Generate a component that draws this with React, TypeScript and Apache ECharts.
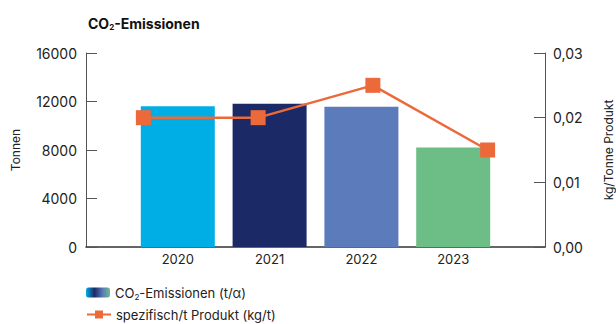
import React, { useEffect, useRef } from "react";
import * as echarts from "echarts";

const barCategories = ["", "2020", "2021", "2022", "2023", ""];
const lineCategories = ["2020", "2021", "2022", "2023"];
const emissions: (number | string)[] = ["-", 11600, 11820, 11560, 8200, "-"];
const barColors = ["#00AEE6", "#00AEE6", "#1B2966", "#5C7BBB", "#6DBD86", "#6DBD86"];
const specific = [0.02, 0.02, 0.025, 0.015];
const leftTicks = [0, 16000, 4000];
const rightTicks = [0, 0.03, 0.01];
const seriesNames = ["CO2-Emissionen (t/a)", "spezifisch/t Produkt (kg/t)"];

const FONT = "Inter, 'Liberation Sans', sans-serif";

export default function App() {
  const ref = useRef<HTMLDivElement>(null);
  useEffect(() => {
    if (!ref.current) return;
    const chart = echarts.init(ref.current, undefined, { renderer: "svg" });
    const gradient = new echarts.graphic.LinearGradient(0, 0, 1, 0, [
      { offset: 0, color: "#00AEE6" },
      { offset: 0.35, color: "#1B2966" },
      { offset: 0.7, color: "#5C7BBB" },
      { offset: 1, color: "#6DBD86" },
    ]);
    const legendText = {
      rich: {
        a: { fontFamily: FONT, fontSize: 13, color: "#222" },
        s: { fontFamily: FONT, fontSize: 8, color: "#222", padding: [8, 0, 0, 0] },
      },
    };
    const legendFormatter = (name: string) =>
      name.startsWith("CO2") ? "{a|CO}{s|2}{a|-Emissionen (t/α)}" : "{a|" + name + "}";
    chart.setOption({
      animation: false,
      textStyle: { fontFamily: FONT },
      title: {
        left: 83,
        top: 10,
        text: "{b|CO}{s|2}{b|-Emissionen}",
        textStyle: {
          rich: {
            b: { fontFamily: FONT, fontWeight: "bold", fontSize: 14, color: "#111" },
            s: { fontFamily: FONT, fontWeight: "bold", fontSize: 8, color: "#111", verticalAlign: "bottom", padding: [8, 0, 0, 0] },
          },
        },
      },
      legend: [
        {
          left: 86,
          top: 286,
          padding: 0,
          itemWidth: 24,
          itemHeight: 10,
          data: [seriesNames[0]],
          formatter: legendFormatter,
          textStyle: legendText,
        },
        {
          left: 86,
          top: 308,
          padding: 0,
          itemWidth: 24,
          itemHeight: 10,
          data: [seriesNames[1]],
          formatter: legendFormatter,
          textStyle: legendText,
        },
      ],
      grid: { left: 86, right: 71, top: 53, bottom: 77, containLabel: false, outerBoundsMode: "none" },
      xAxis: [
        {
          type: "category",
          data: barCategories,
          boundaryGap: false,
          axisLine: { lineStyle: { color: "#333", width: 1.5 } },
          axisTick: { show: false },
          axisLabel: { color: "#222", fontSize: 13, margin: 5, fontFamily: FONT },
        },
        {
          type: "category",
          data: lineCategories,
          boundaryGap: true,
          show: false,
          position: "bottom",
        },
      ],
      yAxis: [
        {
          type: "value",
          min: leftTicks[0],
          max: leftTicks[1],
          interval: leftTicks[2],
          name: "Tonnen",
          nameLocation: "middle",
          nameGap: 65,
          nameTextStyle: { fontSize: 12, color: "#222", fontFamily: FONT },
          axisLine: { show: true, lineStyle: { color: "#555", width: 1 } },
          axisTick: { show: true, inside: true, length: 11, lineStyle: { color: "#555" } },
          axisLabel: {
            color: "#222",
            fontSize: 14,
            margin: 9,
            fontFamily: FONT,
            formatter: (v: number) => String(v),
          },
          splitLine: { show: false },
        },
        {
          type: "value",
          min: rightTicks[0],
          max: rightTicks[1],
          interval: rightTicks[2],
          position: "right",
          name: "kg/Tonne Produkt",
          nameLocation: "middle",
          nameGap: 57,
          nameTextStyle: { fontSize: 12, color: "#222", fontFamily: FONT },
          axisLine: { show: true, lineStyle: { color: "#555", width: 1 } },
          axisTick: { show: true, inside: true, length: 11, lineStyle: { color: "#555" } },
          axisLabel: {
            color: "#222",
            fontSize: 14,
            margin: 8,
            fontFamily: FONT,
            formatter: (v: number) => v.toFixed(2).replace(".", ","),
          },
          splitLine: { show: false },
        },
      ],
      series: [
        {
          name: seriesNames[0],
          type: "bar",
          xAxisIndex: 0,
          yAxisIndex: 0,
          barWidth: 74,
          itemStyle: { color: gradient },
          data: emissions.map((v, i) => ({ value: v, itemStyle: { color: barColors[i] } })),
        },
        {
          name: seriesNames[1],
          type: "line",
          xAxisIndex: 1,
          yAxisIndex: 1,
          symbol: "rect",
          symbolSize: 15,
          lineStyle: { color: "#EC6A3A", width: 2.5 },
          itemStyle: { color: "#EC6A3A" },
          data: specific,
        },
      ],
    });
    return () => chart.dispose();
  }, []);
  return <div ref={ref} style={{ width: 616, height: 324, position: "absolute", left: 0, top: 0 }} />;
}
